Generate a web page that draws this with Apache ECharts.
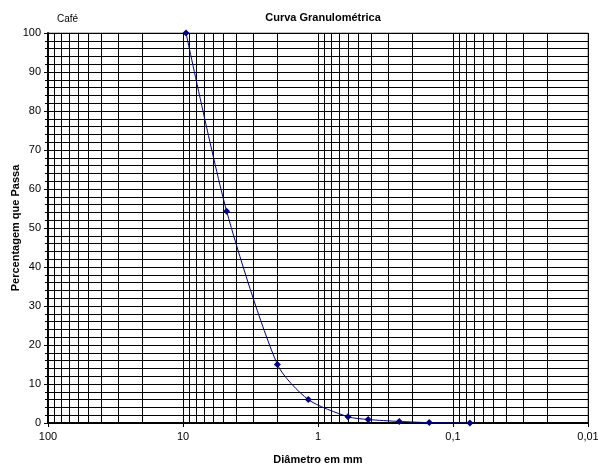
<!DOCTYPE html>
<html>
<head>
<meta charset="utf-8">
<script src="https://cdn.jsdelivr.net/npm/echarts@6/dist/echarts.min.js"></script>
<style>
html,body{margin:0;padding:0;background:#fff;}
#c{width:598px;height:466px;}
</style>
</head>
<body>
<div id="c"></div>
<script>
// Data
const diameters = [9.5, 4.75, 2.0, 1.18, 0.6, 0.425, 0.25, 0.15, 0.075];
const passing = [100, 54.3, 15, 6, 1.6, 0.9, 0.4, 0.1, 0.0];
const yTicks = [0, 10, 20, 30, 40, 50, 60, 70, 80, 90, 100];
const xDecades = [100, 10, 1, 0.1, 0.01];
const xDecadeLabels = {"100": "100", "10": "10", "1": "1", "0.1": "0,1", "0.01": "0,01"};
const titleText = "Curva Granulométrica";
const cornerText = "Café";
const yName = "Percentagem que Passa";
const xName = "Diâmetro em mm";

// minor vertical grid lines at 2..9 of each decade
const minorX = [];
[0.01, 0.1, 1, 10].forEach(function (d) {
  for (let k = 2; k <= 9; k++) minorX.push(+(d * k).toPrecision(6));
});

const font = '"Liberation Sans", Arial, sans-serif';
const chart = echarts.init(document.getElementById('c'), null, {renderer: 'canvas'});
chart.setOption({
  animation: false,
  backgroundColor: '#fff',
  title: [
    {text: titleText, left: 318, top: 7, textAlign: 'center',
      textStyle: {fontFamily: font, fontSize: 11, fontWeight: 'bold', color: '#000'}},
    {text: cornerText, left: 52, top: 9,
      textStyle: {fontFamily: font, fontSize: 10, fontWeight: 'normal', color: '#000'}}
  ],
  grid: {left: 48, right: 10, top: 33, height: 390, show: true, borderColor: '#808080', borderWidth: 1,
    containLabel: false, outerBoundsMode: 'none'},
  xAxis: {
    type: 'log', logBase: 10, min: 0.01, max: 100, inverse: true,
    name: xName, nameLocation: 'middle', nameGap: 31, nameMoveOverlap: false,
    nameTextStyle: {fontFamily: font, fontSize: 11, fontWeight: 'bold', color: '#000'},
    axisLine: {show: true, lineStyle: {color: '#000', width: 2}},
    axisTick: {show: true, length: 4, lineStyle: {color: '#000'}},
    axisLabel: {fontFamily: font, fontSize: 11, color: '#000', margin: 8,
      formatter: function (v) { const k = String(+v.toPrecision(6)); return xDecadeLabels[k] || k; }},
    splitLine: {show: true, lineStyle: {color: '#000', width: 1}},
    minorTick: {show: false},
    minorSplitLine: {show: false}
  },
  yAxis: {
    type: 'value', min: 0, max: 100, interval: 10,
    name: yName, nameLocation: 'middle', nameGap: 27, nameMoveOverlap: false,
    nameTextStyle: {fontFamily: font, fontSize: 11, fontWeight: 'bold', color: '#000'},
    axisLine: {show: true, lineStyle: {color: '#000', width: 2}},
    axisTick: {show: true, length: 4, lineStyle: {color: '#000'}},
    minorTick: {show: true, splitNumber: 5, length: 3, lineStyle: {color: '#000'}},
    minorSplitLine: {show: true, lineStyle: {color: '#000', width: 1}},
    axisLabel: {fontFamily: font, fontSize: 11, color: '#000', margin: 7},
    splitLine: {show: true, lineStyle: {color: '#000', width: 1}}
  },
  series: [{
    type: 'line',
    data: diameters.map(function (d, i) { return [d, passing[i]]; }),
    smooth: 0.25,
    symbol: 'diamond', symbolSize: 7,
    lineStyle: {color: '#000080', width: 1},
    itemStyle: {color: '#000080'},
    z: 5,
    markLine: {
      silent: true, symbol: 'none', label: {show: false},
      lineStyle: {color: '#000', width: 1, type: 'solid'},
      data: minorX.map(function (v) { return {xAxis: v}; }),
      z: 1
    }
  }]
});
</script>
</body>
</html>
